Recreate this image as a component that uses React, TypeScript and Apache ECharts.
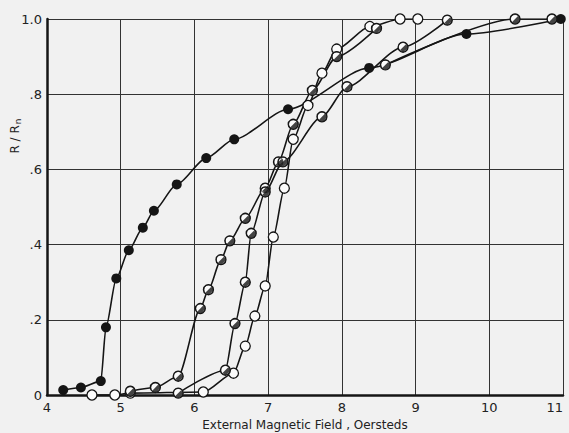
import React, { useEffect, useRef } from "react";
import * as echarts from "echarts";

// External magnetic field (Oe) vs R/Rn, four runs
const solidPts: number[][] = [
  [4.22, 0.013], [4.46, 0.02], [4.73, 0.037], [4.8, 0.18], [4.94, 0.31], [5.11, 0.385],
  [5.3, 0.445], [5.45, 0.49], [5.76, 0.56], [6.16, 0.63], [6.54, 0.68], [7.27, 0.76],
  [8.37, 0.87], [9.69, 0.96], [10.97, 1.0],
];
const openPts: number[][] = [
  [4.61, 0.0], [4.92, 0.0], [5.13, 0.005], [6.12, 0.008], [6.53, 0.058], [6.69, 0.13],
  [6.82, 0.21], [6.96, 0.29], [7.07, 0.42], [7.22, 0.55], [7.34, 0.68], [7.54, 0.77],
  [7.73, 0.856], [7.93, 0.92], [8.38, 0.98], [8.79, 1.0], [9.03, 1.0],
];
const halfPtsB: number[][] = [
  [5.13, 0.01], [5.47, 0.02], [5.78, 0.05], [6.08, 0.23], [6.19, 0.28], [6.36, 0.36],
  [6.48, 0.41], [6.69, 0.47], [6.96, 0.55], [7.14, 0.62], [7.34, 0.72], [7.6, 0.81],
  [7.93, 0.9], [8.47, 0.975],
];
const halfPtsC: number[][] = [
  [5.78, 0.005], [6.42, 0.066], [6.55, 0.19], [6.69, 0.3], [6.77, 0.43], [6.96, 0.54],
  [7.2, 0.62], [7.73, 0.74], [8.07, 0.82], [8.83, 0.925], [9.43, 0.997],
];
const halfPtsE: number[][] = [
  [8.59, 0.878], [10.35, 1.0], [10.85, 1.0],
];
const xTicks = [4, 5, 6, 7, 8, 9, 10, 11];
const yTickLabels: Record<string, string> = { "0": "0", "0.2": ".2", "0.4": ".4", "0.6": ".6", "0.8": ".8", "1": "1.0" };

const INK = "#151515";
const halfSymbol =
  "path://M0,-10A10,10,0,1,1,0,10A10,10,0,1,1,0,-10Z" +
  "M0,-8.2A8.2,8.2,0,1,0,0,8.2A8.2,8.2,0,1,0,0,-8.2Z" +
  "M5.8,-5.8A8.2,8.2,0,0,1,-5.8,5.8Z";

export default function App() {
  const ref = useRef<HTMLDivElement>(null);
  useEffect(() => {
    if (!ref.current) return;
    const chart = echarts.init(ref.current, null, { renderer: "svg" });
    const font = "DejaVu Sans";
    const lineBase = (data: number[][], filled: boolean) => ({
      type: "line",
      data,
      smooth: 0.25,
      smoothMonotone: "x",
      symbol: "circle",
      symbolSize: 10,
      lineStyle: { color: INK, width: 1.6 },
      itemStyle: filled
        ? { color: INK, borderColor: INK, borderWidth: 0 }
        : { color: "#fbfbfb", borderColor: INK, borderWidth: 1.3 },
      z: 2,
    });
    const halfOverlay = (data: number[][]) => ({
      type: "scatter",
      data,
      symbol: halfSymbol,
      symbolSize: 10,
      itemStyle: { color: INK },
      z: 5,
    });
    chart.setOption({
      animation: false,
      backgroundColor: "#f1f1f1",
      grid: { left: 47, right: 6, top: 19, bottom: 38, containLabel: false, outerBoundsMode: "none" },
      graphic: [
        {
          type: "text",
          x: 15,
          y: 136,
          rotation: Math.PI / 2,
          style: {
            text: "{a|R / R}{b|n}",
            align: "center",
            verticalAlign: "middle",
            rich: {
              a: { fontFamily: font, fontSize: 12, fill: "#222", color: "#222" },
              b: { fontFamily: font, fontSize: 9, fill: "#222", color: "#222", padding: [5, 0, 0, 1] },
            },
          },
        },
      ],
      xAxis: {
        type: "value",
        min: xTicks[0],
        max: xTicks[xTicks.length - 1],
        interval: 1,
        name: "External Magnetic Field , Oersteds",
        nameLocation: "middle",
        nameGap: 21,
        nameTextStyle: { fontFamily: font, fontSize: 12, color: "#222" },
        axisLine: { show: true, lineStyle: { color: INK, width: 2.5 } },
        axisTick: { show: false },
        axisLabel: { fontFamily: font, fontSize: 13, color: "#222", margin: 6, alignMaxLabel: "right" },
        splitLine: { show: true, lineStyle: { color: "#333", width: 1 } },
      },
      yAxis: {
        type: "value",
        min: 0,
        max: 1,
        interval: 0.2,
        axisLine: { show: true, lineStyle: { color: INK, width: 2.5 } },
        axisTick: { show: false },
        axisLabel: {
          fontFamily: font,
          fontSize: 13,
          color: "#222",
          margin: 5,
          formatter: (v: number) => yTickLabels[String(Math.round(v * 10) / 10)] ?? "",
        },
        splitLine: { show: true, lineStyle: { color: "#333", width: 1 } },
      },
      series: [
        lineBase(solidPts, true),
        lineBase(openPts, false),
        lineBase(halfPtsB, false),
        lineBase(halfPtsC, false),
        lineBase(halfPtsE, false),
        halfOverlay(halfPtsB),
        halfOverlay(halfPtsC),
        halfOverlay(halfPtsE),
      ],
    });
    return () => chart.dispose();
  }, []);
  return <div ref={ref} style={{ width: 569, height: 433, position: "absolute", left: 0, top: 0 }} />;
}
